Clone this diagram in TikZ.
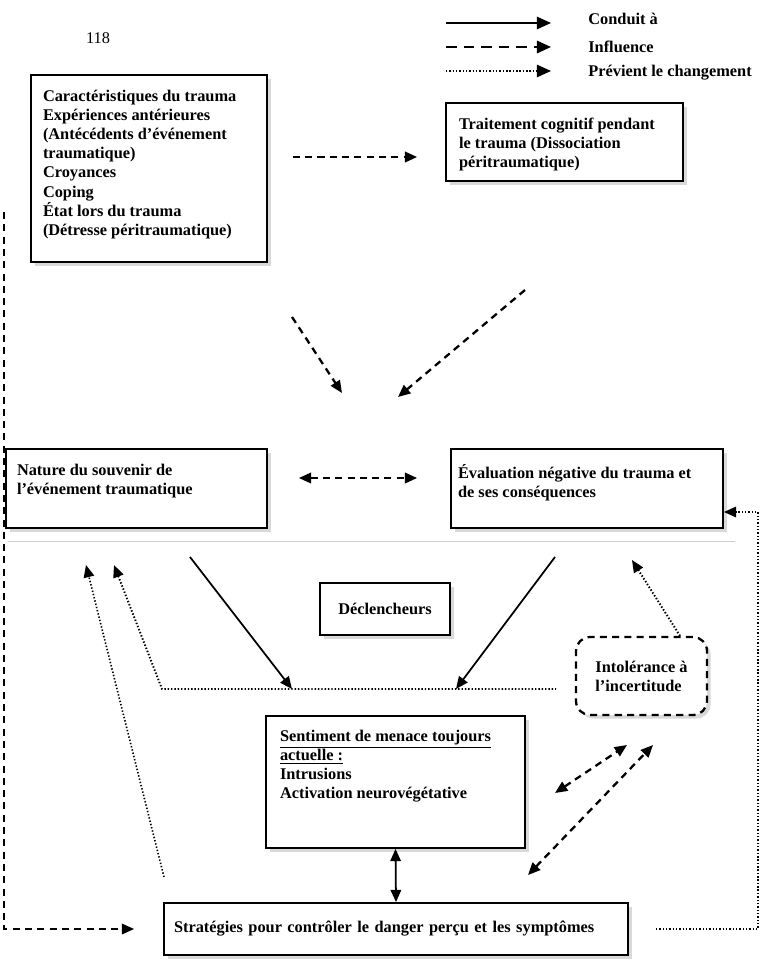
\documentclass[tikz,border=0pt]{standalone}
\usepackage{fontspec}
\setmainfont{Liberation Serif}
\usetikzlibrary{arrows.meta,positioning,shadows}
\newcommand{\toptxt}[3]{\parbox[c][#2][t]{#1}{\raggedright#3}}

\begin{document}
\begin{tikzpicture}[>={Triangle[length=7pt,width=6pt]},
  txt/.style={font=\fontsize{9.3}{10.9}\selectfont\bfseries},
  box/.style={txt,draw,line width=1pt,fill=white,inner xsep=.24cm,inner ysep=.3cm,
    drop shadow={shadow xshift=2pt,shadow yshift=-2pt,opacity=.3}},
  lead/.style={->,line width=1pt},
  infl/.style={->,line width=1.3pt,dash pattern=on 4pt off 3pt},
  prev/.style={->,line width=1.1pt,dash pattern=on .8pt off 1.1pt}]
\useasboundingbox (0,0) rectangle (15.24,-19.26);

\node[font=\fontsize{9.3}{11}\selectfont] (page) at (1.96,-.76) {118};

\coordinate (lg1) at (8.92,-.46);
\coordinate (lg2) at (8.92,-.94);
\coordinate (lg3) at (8.92,-1.42);
\draw[lead,-{Triangle[length=8pt,width=7pt]}] (lg1) -- ++(2.1,0) coordinate (lg1e);
\draw[infl,dash pattern=on 6pt off 4pt,-{Triangle[length=8pt,width=7pt]}] (lg2) -- ++(2.1,0) coordinate (lg2e);
\draw[prev,line width=.9pt,-{Triangle[length=8pt,width=7pt]}] (lg3) -- ++(2.1,0) coordinate (lg3e);
\node[txt,inner sep=0,right=.74cm of lg1e,yshift=.09cm] (lgconduit) {Conduit à};
\node[txt,inner sep=0,right=.74cm of lg2e] (lginfl) {Influence};
\node[txt,inner sep=0,right=.74cm of lg3e,yshift=-.03cm] (lgprev) {Prévient le changement};

\node[box] (cara) at (2.98,-3.37) {\toptxt{4.24cm}{3.14cm}{Caractéristiques du trauma\\
  Expériences antérieures\\(Antécédents d’événement\\traumatique)\\Croyances\\Coping\\
  État lors du trauma\\(Détresse péritraumatique)}};
\node[box,inner xsep=.26cm] (trait) at (11.29,-2.84) {\toptxt{4.22cm}{.96cm}{Traitement cognitif pendant\\
  le trauma (Dissociation\\péritraumatique)}};
\node[box,inner xsep=.22cm] (nature) at (2.73,-9.77) {\toptxt{4.78cm}{.98cm}{Nature du souvenir de\\l’événement traumatique}};
\node[box,inner xsep=.14cm] (evalu) at (11.74,-9.77) {\toptxt{5.16cm}{.98cm}{Évaluation négative du trauma et\\de ses conséquences}};
\node[box,inner sep=0,minimum width=2.6cm,minimum height=1.04cm] (decl) at (7.7,-12.18) {Déclencheurs};
\node[box,inner sep=0,align=left,minimum width=2.62cm,minimum height=1.56cm,rounded corners=8pt,
  line width=1.3pt,dash pattern=on 4pt off 3pt] (intol) at (12.83,-13.52) {Intolérance à\\l’incertitude};
\node[box,inner sep=.28cm] (menace) at (7.91,-15.64) {\toptxt{4.62cm}{2.08cm}{\underline{Sentiment de menace toujours}\\
  \underline{actuelle :}\\Intrusions\\Activation neurovégétative}};
\node[box,inner xsep=.2cm,inner ysep=0,text width=8.88cm,align=left,minimum height=1.04cm] (strat) at (7.92,-18.58)
  {Stratégies pour contrôler le danger perçu et les symptômes};

\draw[gray!40,line width=.4pt] (.16,-10.82) -- (14.7,-10.82);

\draw[infl,shorten <=.5cm,shorten >=.56cm] ([yshift=.23cm]cara.east) -- ([yshift=.23cm]cara.east -| trait.west);
\coordinate (ca1) at (5.84,-6.34);
\coordinate (ca2) at (6.84,-7.86);
\coordinate (tr1) at (10.5,-5.8);
\coordinate (tr2) at (7.96,-7.94);
\draw[infl] (ca1) -- (ca2);
\draw[infl] (tr1) -- (tr2);
\draw[infl,<->,shorten <=.62cm,shorten >=.66cm] ([yshift=.21cm]nature.east) -- ([yshift=.21cm]nature.east -| evalu.west);

\coordinate (na1) at (3.8,-11.14);
\coordinate (ev1) at (11.1,-11.14);
\coordinate (bar1) at (3.24,-13.78);
\coordinate (bar2) at (11.12,-13.78);
\coordinate (hit1) at (5.84,-13.78);
\coordinate (hit2) at (9.12,-13.78);
\draw[lead] (na1) -- (hit1);
\draw[lead] (ev1) -- (hit2);
\draw[prev,<-] (2.28,-11.3) coordinate (nt1) -- (bar1) -- (bar2);
\coordinate (st1) at (3.28,-17.54);
\coordinate (nt2) at (1.72,-11.3);
\draw[prev,line width=.9pt] (st1) -- (nt2);
\coordinate (ev2) at (12.64,-11.2);
\draw[prev] ([xshift=.77cm]intol.north) -- (ev2);

\coordinate (me1) at (11.1,-15.86);
\coordinate (in1) at (12.54,-14.9);
\coordinate (st2) at (10.56,-17.5);
\coordinate (in2) at (13.06,-14.9);
\draw[infl,<->] (me1) -- (in1);
\draw[infl,<->] (st2) -- (in2);
\draw[lead,<->] (menace.south) -- (strat.north);

\coordinate (lft) at (.08,-4.24);
\coordinate (rgt) at (15.16,0);
\draw[infl,line width=1pt,shorten >=.58cm] (lft) |- (strat.west);
\draw[prev,shorten <=.54cm] (strat.east) -- (strat.east -| rgt) |- ([yshift=-.47cm]evalu.east);

\end{tikzpicture}
\end{document}
